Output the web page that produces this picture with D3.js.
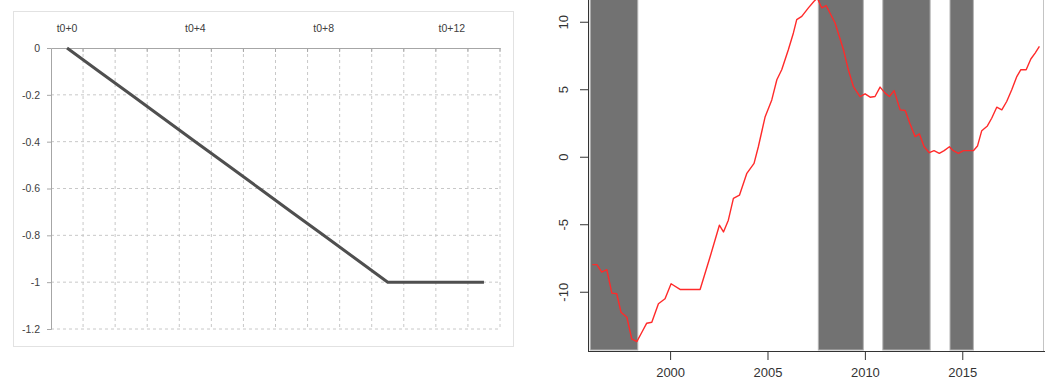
<!DOCTYPE html>
<html>
<head>
<meta charset="utf-8">
<script src="https://cdn.jsdelivr.net/npm/d3@7"></script>
<style>
  body { margin: 0; background: #fff; }
  svg { display: block; font-family: "Liberation Sans", Arial, sans-serif; }
</style>
</head>
<body>
<svg id="chart" width="1045" height="382"></svg>
<script>
// left panel data
const categories = ["t0+0","t0+1","t0+2","t0+3","t0+4","t0+5","t0+6","t0+7","t0+8","t0+9","t0+10","t0+11","t0+12","t0+13"];
const pathValues = [0, -0.1, -0.2, -0.3, -0.4, -0.5, -0.6, -0.7, -0.8, -0.9, -1, -1, -1, -1];
const leftTicks = [0, -0.2, -0.4, -0.6, -0.8, -1, -1.2];

// right panel data
const years = [1996.01, 1996.24, 1996.49, 1996.75, 1997.01, 1997.26, 1997.48, 1997.78, 1998.03, 1998.29,
  1998.55, 1998.80, 1999.06, 1999.40, 1999.74, 2000.05, 2000.51, 2001.54, 2002.05, 2002.53,
  2002.74, 2002.99, 2003.25, 2003.56, 2003.94, 2004.31, 2004.53, 2004.88, 2005.22, 2005.48,
  2005.73, 2006.07, 2006.33, 2006.50, 2006.76, 2007.10, 2007.39, 2007.56, 2007.78, 2008.01,
  2008.47, 2008.90, 2009.15, 2009.41, 2009.75, 2010.01, 2010.27, 2010.52, 2010.78, 2011.04,
  2011.26, 2011.50, 2011.81, 2012.07, 2012.32, 2012.58, 2012.80, 2013.04, 2013.31, 2013.55,
  2013.82, 2014.07, 2014.34, 2014.54, 2014.80, 2015.06, 2015.57, 2015.78, 2016.00, 2016.29,
  2016.51, 2016.77, 2017.03, 2017.28, 2017.54, 2017.80, 2018.00, 2018.28, 2018.52, 2018.74, 2018.96];
const gapValues = [-7.99, -7.99, -8.54, -8.37, -10.10, -10.15, -11.52, -11.89, -13.49, -13.69,
  -13.00, -12.33, -12.26, -10.89, -10.52, -9.41, -9.83, -9.83, -7.43, -5.07,
  -5.57, -4.70, -3.09, -2.85, -1.23, -0.49, 0.74, 2.97, 4.21, 5.70,
  6.44, 7.93, 9.17, 10.16, 10.40, 11.03, 11.52, 11.75, 11.03, 11.20,
  9.91, 7.93, 6.44, 5.20, 4.46, 4.66, 4.41, 4.46, 5.16, 4.71,
  4.46, 4.90, 3.47, 3.42, 2.43, 1.49, 1.69, 0.74, 0.30, 0.45,
  0.25, 0.45, 0.74, 0.45, 0.25, 0.45, 0.45, 0.79, 1.93, 2.28,
  2.85, 3.67, 3.47, 4.09, 4.96, 5.94, 6.44, 6.44, 7.24, 7.68, 8.17];
const bandStart = [1995.9, 2007.61, 2010.92, 2014.37];
const bandEnd = [1998.34, 2009.92, 2013.35, 2015.57];
const yearTicks = [2000, 2005, 2010, 2015];
const rightTicks = [-10, -5, 0, 5, 10];

const svg = d3.select("#chart");

/*
  LEFT panel (spreadsheet style)
*/
const left = svg.append("g");

left.append("rect")
    .attr("x", 13.5).attr("y", 11.5)
    .attr("width", 500).attr("height", 335)
    .attr("fill", "#fff")
    .attr("stroke", "#e2e2e2");

const lx = d3.scaleBand().domain(categories).range([51, 500]);
const ly = d3.scaleLinear().domain([-1.2, 0]).range([329, 48]);

// dashed grid
left.append("g")
    .selectAll("line")
    .data(leftTicks.slice(1))
    .join("line")
    .attr("x1", 51).attr("x2", 500)
    .attr("y1", d => ly(d)).attr("y2", d => ly(d))
    .attr("stroke", "#c8c8c8")
    .attr("stroke-dasharray", "3,3");

left.append("g")
    .selectAll("line")
    .data(categories)
    .join("line")
    .attr("x1", d => lx(d) + lx.bandwidth()).attr("x2", d => lx(d) + lx.bandwidth())
    .attr("y1", 48).attr("y2", 329)
    .attr("stroke", "#c8c8c8")
    .attr("stroke-dasharray", "3,3");

// y axis
const lyAxis = left.append("g")
    .attr("transform", "translate(51,0)")
    .call(d3.axisLeft(ly).tickValues(leftTicks).tickSize(4).tickPadding(7).tickFormat(d => String(d)));
lyAxis.select(".domain").attr("stroke", "#a6a6a6");
lyAxis.selectAll(".tick line").attr("stroke", "#a6a6a6");
lyAxis.selectAll("text").attr("fill", "#404040").style("font-size", "10.5px");

// category axis at the top (crosses at 0)
const lxAxis = left.append("g")
    .attr("transform", "translate(0,48)")
    .call(d3.axisTop(lx)
        .tickValues(categories.filter((d, i) => i % 4 === 0))
        .tickSize(0).tickPadding(16));
lxAxis.select(".domain").attr("stroke", "#a6a6a6");
lxAxis.selectAll("text").attr("fill", "#404040").style("font-size", "10.5px");

left.append("g")
    .selectAll("line")
    .data(categories)
    .join("line")
    .attr("x1", d => lx(d) + lx.bandwidth()).attr("x2", d => lx(d) + lx.bandwidth())
    .attr("y1", 48).attr("y2", 52)
    .attr("stroke", "#a6a6a6");

left.append("path")
    .datum(pathValues)
    .attr("fill", "none")
    .attr("stroke", "#4f4f4f")
    .attr("stroke-width", 3)
    .attr("d", d3.line()
        .x((d, i) => lx(categories[i]) + lx.bandwidth() / 2)
        .y(d => ly(d)));

/*
  RIGHT panel (R style)
*/
const right = svg.append("g");
const rx = d3.scaleLinear().domain([1995.8, 2019.16]).range([588.3, 1043.3]);
const ry = d3.scaleLinear().domain([-14.39, 11.61]).range([351, 0]);

right.append("clipPath").attr("id", "plotclip")
    .append("rect").attr("x", 588).attr("y", 0).attr("width", 457).attr("height", 351);

right.append("g")
    .selectAll("rect")
    .data(bandStart)
    .join("rect")
    .attr("x", d => rx(d))
    .attr("width", (d, i) => rx(bandEnd[i]) - rx(d))
    .attr("y", ry(11.61) - 2)
    .attr("height", ry(-14.39) - ry(11.61) + 1)
    .attr("fill", "#727272")
    .attr("stroke", "#b4b4b4")
    .attr("stroke-width", 1);

right.append("line")
    .attr("x1", 1043.5).attr("x2", 1043.5)
    .attr("y1", 0).attr("y2", 351)
    .attr("stroke", "#c4c4c4");

right.append("path")
    .datum(d3.zip(years, gapValues))
    .attr("clip-path", "url(#plotclip)")
    .attr("fill", "none")
    .attr("stroke", "#ff2a2a")
    .attr("stroke-width", 1.4)
    .attr("stroke-linejoin", "round")
    .attr("d", d3.line().x(d => rx(d[0])).y(d => ry(d[1])));

// frame lines
right.append("line")
    .attr("x1", 588.5).attr("x2", 588.5).attr("y1", 0).attr("y2", 351)
    .attr("stroke", "#333");

const rxAxis = right.append("g")
    .attr("transform", "translate(0,351)")
    .call(d3.axisBottom(rx).tickValues(yearTicks).tickSize(9).tickPadding(8).tickFormat(d3.format("d")));
rxAxis.select(".domain").attr("d", "M588,0.5H1045").attr("stroke", "#333");
rxAxis.selectAll(".tick line").attr("stroke", "#333");
rxAxis.selectAll("text").attr("fill", "#333").style("font-size", "13px");

const ryAxis = right.append("g")
    .attr("transform", "translate(588,0)")
    .call(d3.axisLeft(ry).tickValues(rightTicks).tickSize(8).tickPadding(0).tickFormat(d => String(d)));
ryAxis.select(".domain").remove();
ryAxis.selectAll(".tick line").attr("stroke", "#333");
ryAxis.selectAll("text")
    .attr("fill", "#333")
    .style("font-size", "13px")
    .attr("x", null).attr("dy", null)
    .attr("text-anchor", "middle")
    .attr("transform", "translate(-20,0) rotate(-90)")
    .attr("y", 0);
</script>
</body>
</html>
